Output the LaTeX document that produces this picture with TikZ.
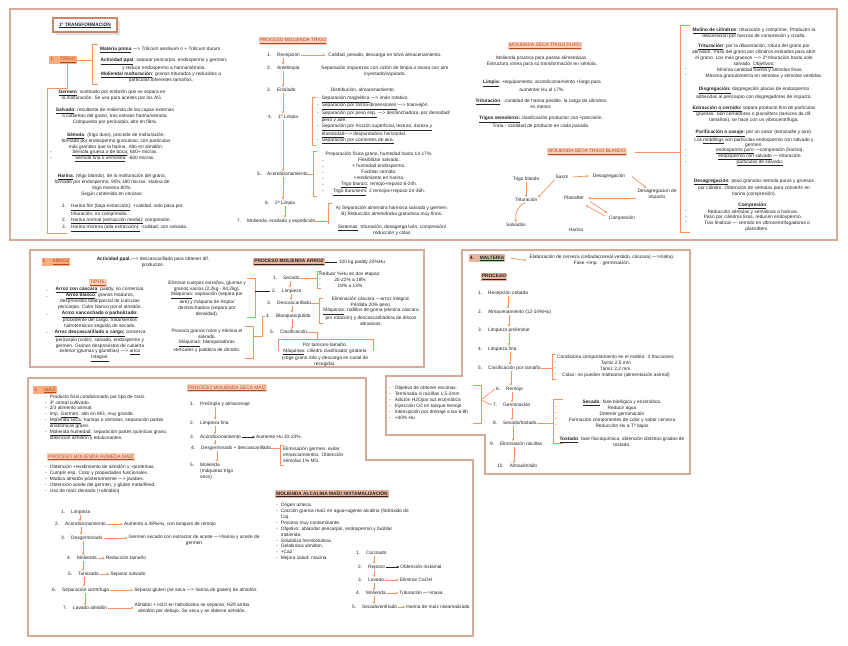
\documentclass[tikz,border=0pt]{standalone}
\usepackage{fontspec}
\setmainfont{Liberation Sans}
\usetikzlibrary{arrows.meta,positioning,shadows}

\definecolor{frameclr}{RGB}{214,172,152}
\definecolor{arrclr}{RGB}{246,146,95}
\definecolor{txtclr}{RGB}{35,35,35}
\definecolor{hlorange}{RGB}{248,172,128}
\definecolor{hlpeach}{RGB}{251,208,184}
\definecolor{hltan}{RGB}{232,180,155}
\definecolor{hltext}{RGB}{180,72,38}
\definecolor{titleclr}{RGB}{200,135,105}

\newcommand{\fs}{\fontsize{4.8}{5.9}\selectfont}
\newcommand{\und}[1]{\underline{#1}}
\newcommand{\bu}[1]{\underline{\textbf{#1}}}

\tikzset{
  txt/.style={font=\fs, text=txtclr, inner sep=0pt, align=center},
  ltxt/.style={font=\fs, text=txtclr, inner sep=0pt, align=left, anchor=west},
  stp/.style={font=\fs, text=txtclr, inner sep=0pt, anchor=west},
  hlor/.style={font=\fs, fill=hlorange, text=hltext, inner sep=1pt},
  hlpe/.style={font=\fs, fill=hlpeach, text=hltext, inner sep=1pt},
  hltn/.style={font=\fs\bfseries, fill=hltan, text=txtclr, inner sep=1pt},
  arr/.style={draw=arrclr, line width=0.7pt, -{Stealth[length=2.5pt,width=2.6pt]}, shorten >=1pt, shorten <=1pt},
  barr/.style={arr, draw=txtclr},
  brk/.style={draw=arrclr, line width=0.7pt},
  panel/.style={draw=frameclr, line width=1.5pt},
}

\begin{document}
\begin{tikzpicture}[x=1pt,y=-1pt]

  % Page
  \fill[white] (0,0) rectangle (848,645);
  \useasboundingbox (0,0) rectangle (848,645);

  % Panels
  \draw[panel] (10,9) rectangle (837,240);
  \draw[panel] (30,250) rectangle (424,367);
  \draw[panel] (462,250) -- (690,250) -- (690,474) -- (485,474) -- (485,435)
    -- (386,435) -- (386,376) -- (462,376) -- cycle;
  \draw[panel] (28,378) -- (366,378) -- (366,460) -- (473,460) -- (473,636)
    -- (28,636) -- cycle;

  % Title
  \node[font=\fs\bfseries, text=txtclr, draw=titleclr, line width=2pt, fill=white,
        minimum width=64pt, minimum height=14pt, drop shadow={opacity=0.25}]
        (titulo) at (85,25) {\und{1º TRANSFORMACIÓN}};

  % 1. Trigo
  \node[hlor] (trigo) at (63,60) {1.\hspace{6pt}\und{TRIGO}};
  \coordinate (mpa) at (92,44);
  \coordinate (mpb) at (92,84);
  \draw[brk] ([xshift=6pt]mpa) -- (mpa) -- (mpb) -- ([xshift=6pt]mpb);
  \draw[brk] (trigo.east) -- (trigo.east -| mpa);
  \node[txt] (mprima) at (161,50) {\bu{Materia prima} —> Triticum aestivum o + Triticum durum.};
  \node[txt] (appal) at (164,64) {\bu{Actividad ppal}: separar pericarpio, endospermo y germen,\\y reducir endospermo a harina/sémola.};
  \node[txt] (molt) at (161,77.5) {\bu{Molienda/ molturación}: granos triturados y reducidos a\\partículas diferentes tamaños.};

  \coordinate (gba) at (47,88);
  \coordinate (gbb) at (47,233);
  \draw[brk] ([xshift=4pt]trigo.south) |- (gba) -- (gbb) -- ++(20,0);

  \node[txt] (germen) at (112,95) {\bu{Germen}: sustituido por embrión que se separa en\\la molturación. Se usa para aceites por los AG.};
  \node[txt] (salvado) at (115,116.5) {\bu{Salvado}: resultante de molienda de las capas externas\\o cubiertas del grano, tras extraes harina/sémola.\\Compuesto por pericarpio, alto en fibra.};
  \node[txt] (semola) at (116,141) {\bu{Sémola}: (trigo duro), procede de molturación,\\formado por endospermo granuloso, con partículas\\más grandes que la harina. Alto en almidón:};
  \node[txt] (sgruesa) at (115,153) {\und{Sémola gruesa o de boca}: 600+ micras.};
  \node[txt] (sfina) at (115,159) {\und{Sémola fina o semolina}: -600 micras.};
  \foreach \y [count=\i] in {153,159} \node[txt] (dsm\i) at (51,\y) {-};
  \node[txt] (harina) at (112,185.5) {\bu{Harina}: (trigo blando), de la molturación del grano,\\formado por endospermo, 90\% 180 micras. Harina de\\trigo morena 80\%.\\Según contenido en cenizas:};
  \node[ltxt] (cenizas) at (62,218) {1.\hspace{5pt}\und{Harina flor (baja extracción)}: +calidad, solo pasa por\\\hphantom{1.\hspace{5pt}}trituración, no comprimida.\\2.\hspace{5pt}\und{Harina normal (extracción media):} compresión.\\3.\hspace{5pt}\und{Harina morena (alta extracción):} -calidad, con salvado.};

  % Proceso molienda trigo
  \node[hlpe] (pmt) at (293,41) {\und{PROCESO MOLIENDA TRIGO}};
  \node[stp] (s1) at (267,55) {1.\hspace{6pt}Recepción};
  \node[stp] (s2) at (267,68) {2.\hspace{6pt}Antelimpia};
  \node[stp] (s3) at (267,90) {3.\hspace{6pt}Ensilado};
  \node[stp] (s4) at (268,117) {4.\hspace{6pt}1º Limpia};
  \node[stp] (s5) at (257,174) {5.\hspace{6pt}Acondicionamiento};
  \node[stp] (s6) at (265,203) {6.\hspace{6pt}2ª Limpia};
  \node[stp] (s7) at (237,221) {7.\hspace{6pt}Molienda, ensilado y expedición};
  \foreach \a/\b/\x in {s1/s2/283, s2/s3/283, s3/s4/283, s4/s5/283, s5/s6/283, s6/s7/285} {
    \coordinate (ax) at (\x,0);
    \draw[arr] (\a.south -| ax) -- (\b.north -| ax);
  }

  \node[txt] (r1) at (385,55) {Calidad, pesado, descarga en tolva almacenamiento.};
  \draw[arr] (s1.east) -- ([xshift=-2pt]r1.west);
  \node[txt] (r2) at (385,71) {Separación impurezas con ciclón de limpia o tarara con aire\\inyectado/aspirado.};
  \node[txt] (r3) at (363,90) {Distribución, almacenamiento.};

  \coordinate (bla) at (312,97);
  \coordinate (blb) at (312,145);
  \draw[brk] ([xshift=4pt]bla) -- (bla) -- (blb) -- ([xshift=4pt]blb);
  \node[ltxt] (r4) at (317,120) {-\hspace{3pt}\und{Separación magnética} —> imán rotativo.\\-\hspace{3pt}\und{Separación por forma-dimensiones} —> trianvejón.\\-\hspace{3pt}\und{Separación por peso esp.} —> deshinchadora, por densidad/\\\hphantom{-\hspace{3pt}}peso y aire.\\-\hspace{3pt}\und{Separación por fricción superficial, textura, dureza y}\\\hphantom{-\hspace{3pt}}\und{elasticidad}—> despuntadora horizontal.\\-\hspace{3pt}\und{Separación por corrientes de aire.}};

  \coordinate (baa) at (313,151);
  \coordinate (bab) at (313,196);
  \draw[brk] ([xshift=4pt]baa) -- (baa) -- (bab) -- ([xshift=4pt]bab);
  \draw[brk] (s5.east) -- (s5.east -| baa);
  \node[txt] (r5) at (379,174) {Preparación física grano, humedad hasta 14-17\%.\\Flexibilizar salvado.\\+ humedad endospermo.\\Facilitar cernido.\\+rendimiento en harina.\\\und{Trigo blanco}: remojo+reposo 6-24h.\\\und{Trigo duro/semi}: 2 remojos+reposo 24-36h.};
  \foreach \y [count=\i] in {161.9,167.8,173.7,179.6,185.5,191.4} \node[txt] (dac\i) at (323,\y) {-};

  \coordinate (b7a) at (328,203);
  \coordinate (b7b) at (328,224);
  \draw[brk] ([xshift=4pt]b7a) -- (b7a) -- (b7b);
  \draw[brk] (s7.east) -- (s7.east -| b7a);
  \node[txt] (r7a) at (392,211) {A) Separación almendra harinosa salvado y germen.\\B) Reducción almendraba granulosa muy finos.};
  \node[txt] (r7b) at (392,230) {\und{Sistemas}: trituración, desagrega lvón, compresión/\\reducción y colas};

  % Molienda seca trigo duro
  \node[hlpe] (msd) at (545,46) {\und{MOLIENDA SECA TRIGO DURO}};
  \node[txt] (dur1) at (542,61.5) {Molienda practica para pastas alimenticias.\\Estructura vítrea para su transformación en sémola.};
  \node[txt] (dur2) at (542,86) {\bu{Limpia}: +equipamento, acondicionamiento +largo para\\aumentar Hu al 17\%.};
  \node[txt] (dur3) at (541,104) {\bu{Trituración}: -cantidad de harina posible, la carga de cilindros\\es menor.};
  \node[txt] (dur4) at (541,122) {\bu{Trigos semoleros:} clasificación productor con +precisión.\\Trata - cantidad de producto en cada pasada.};

  % Molienda seca trigo blando
  \node[hlpe] (msb) at (587,152) {\und{MOLIENDA SECA TRIGO BLANDO}};
  \coordinate (rba) at (680,25);
  \coordinate (rbb) at (680,232);
  \draw[brk] ([xshift=10pt]rba) -- (rba) -- (rbb) -- ([xshift=10pt]rbb);
  \draw[brk] ([xshift=8pt]msb.east) -- (msb.east -| rba);

  \node[txt] (tb) at (526,179) {Trigo blando};
  \node[txt] (sasor) at (562,177) {Sasor};
  \node[txt] (desag) at (609,176) {Desagregación};
  \node[txt] (desimp) at (657,194) {Desagregacion de\\impacto};
  \node[txt] (plansf) at (574,198) {Planisfter};
  \node[txt] (trit) at (526,200) {Trituración};
  \node[txt] (comp) at (622,218) {Compresión};
  \node[txt] (salv) at (516,225) {Salvados};
  \node[txt] (harn) at (576,230) {Harina};
  \draw[arr] (tb) -- (trit);
  \draw[arr] (sasor.south west) -- (trit.north east);
  \draw[arr] ([xshift=3pt]sasor.east) -- ([xshift=-3pt]desag.west);
  \draw[arr] ([xshift=6pt]desag.east) -- ([xshift=10pt]desimp.north west);
  \draw[arr] (plansf -| desimp.west) -- ([xshift=3pt]plansf.east);
  \draw[arr] ([xshift=5pt,yshift=-1pt]plansf.south east) -- ([xshift=-1pt,yshift=2pt]comp.north west);
  \draw[arr] ([xshift=-3pt,yshift=-1pt]comp.north west) -- ([xshift=1pt,yshift=-5pt]plansf.south east);
  \draw[arr] (trit.south) .. controls (518,206) and (515,212) .. (salv.north);

  % Molino de cilindros
  \node[txt] (molc) at (754,33) {\bu{Molino de cilindros}: trituración y comprime. Producen la\\dilaceración por fuerzas de compresión y cizalla.};
  \node[txt] (tritc) at (754,56) {\bu{Trituración}: por la dilaceración, rotura del grano por\\abrasión. Paso del grano por cilindros estriados para abrir\\el grano. Los más gruesos —> 2ª trituración hasta solo\\salvado. \und{Objetivos}:};
  \node[txt] (obj1) at (760,70) {Mínima cantidad harina y sémolas finas.};
  \node[txt] (obj2) at (764,76) {Máxima granulometría en sémolas y sémolas vestidas.};
  \foreach \y [count=\i] in {70,76} \node[txt] (dob\i) at (686,\y) {-};
  \node[txt] (disg) at (754,93) {\bu{Disgregación:} disgregación placas de endospermo\\adheridas al pericarpio con disgregadores de impacto.};
  \node[txt] (extr) at (754,114.5) {\bu{Extracción o cernido:} separa producto fino de partículas\\gruesas. Son cernedores o plansifters (tamices de dif.\\tamaños), se hace con un vibrocentrífuga.};
  \node[txt] (purif) at (754,139) {\bu{Purificación o sasaje:} por un sasor (tamizadle y aire).\\Los \und{middlings} son partículas endospermo con salvado y\\germen.};
  \node[txt] (pur1) at (760,151) {\und{endospermo puro} —compresión (harina).};
  \node[txt] (pur2) at (760,157) {\und{endospermo con salvado} — trituración.};
  \node[txt] (pur3) at (760,163) {\und{partículas de salvado.}};
  \foreach \y [count=\i] in {151,157,163} \node[txt] (dpu\i) at (686,\y) {-};
  \node[txt] (desg) at (754,187.5) {\bu{Desagregación}: paso gránulos semola puros y gruesos\\por cilindro. Obtención de sémolas para convertir en\\harina (compresión).};
  \node[txt] (compt) at (753,206) {\bu{Compresión}:};
  \node[txt] (cmp1) at (753,212) {Reducción sémolas y semolinas a harinas.};
  \node[txt] (cmp2) at (753,217.5) {Paso por cilindros lisos, reducen endospermo.};
  \node[txt] (cmp3) at (757,226) {Tras finalizar — cernido en vibrocentrifugadoras o\\plansifters.};
  \foreach \y [count=\i] in {212,217.5,223} \node[txt] (dcm\i) at (686,\y) {-};

  % 2. Arroz
  \node[hlor] (arroz) at (56,262) {2.\hspace{6pt}\und{ARROZ}};
  \node[txt] (aprz) at (153,262) {\textbf{Actividad ppal.}—> descascarillado para obtener dif.\\productos.};
  \node[hlpe] (tipos) at (98,283) {\und{TIPOS:}};
  \node[txt] (tlist) at (100,324.5) {\bu{Arroz con cáscara}: paddy, no comercial.\\\bu{Arroz blanco}: granos maduros,\\desprovistos total/parcial de cutículas\\pericarpio. Color blanco por el almidón.\\\bu{Arroz sancochado o parbolizado:}\\procedente del cargo, tratamientos\\hidrotérmicos seguido de secado.\\\bu{Arroz descascarillado o cargo:} conserva\\pericarpio (color), salvado, endospermo y\\germen. Granos desprovistos de cubierta\\exterior (glumas y glumillas) —> \und{arroz}\\\und{integral.}};
  \foreach \y [count=\i] in {292,297.9,315.6,333.3} \node[txt] (dt\i) at (47,\y) {-};

  \node[txt] (elim) at (207,298.5) {Eliminar cuerpos extraños, glumas y\\granos vacíos (2,2kg - 84,2kg).\\\und{Máquinas}: aspiración (separa por\\aire) y máquina de limpia/\\deshinchadora (separa por\\densidad).};
  \coordinate (bea) at (255,278);
  \coordinate (beb) at (255,317);
  \draw[brk] ([xshift=-8pt]bea) -- (bea) -- (beb) -- ([xshift=-8pt]beb);
  \node[txt] (prov) at (207,340.5) {Provoca granos rotos y elimina el\\salvado.\\\und{Máquinas}: blanqueadoras\\verticales y pulidora de cilindro.};
  \coordinate (bpa) at (253,326);
  \coordinate (bpb) at (253,358);
  \draw[brk] ([xshift=-8pt]bpa) -- (bpa) -- (bpb) -- ([xshift=-8pt]bpb);

  % Proceso molienda arroz
  \node[hltn] (pma) at (289,262) {\und{PROCESO MOLIENDA ARROZ}};
  \node[txt] (paddy) at (362,262) {100 kg paddy 24\%Hu};
  \draw[txtclr, line width=0.5pt] (pma.east) -- ([xshift=-2pt]paddy.west);
  \node[stp] (a1) at (273,278) {1.\hspace{6pt}Secado};
  \node[stp] (a2) at (272,291) {2.\hspace{6pt}Limpieza};
  \node[stp] (a3) at (267,303) {3.\hspace{6pt}Descascarillado};
  \node[stp] (a4) at (266,316) {4.\hspace{6pt}Blanqueo/pulido};
  \node[stp] (a5) at (270,332) {5.\hspace{6pt}Clasificación};
  \foreach \a/\b/\x in {a1/a2/290, a2/a3/291, a3/a4/292, a4/a5/292} {
    \coordinate (ax) at (\x,0);
    \draw[arr] (\a.south -| ax) -- (\b.north -| ax);
  }
  \draw[txtclr, line width=0.5pt] (a2.west -| bea) -- ([xshift=-2pt]a2.west);
  \coordinate (bpm) at (262,336);
  \draw[brk] (bpm -| bpa) -- (bpm) |- ([xshift=-1pt]a4.west);

  \coordinate (bsa) at (317,271);
  \coordinate (bsb) at (317,288);
  \draw[brk] ([xshift=4pt]bsa) -- (bsa) -- (bsb) -- ([xshift=4pt]bsb);
  \draw[brk] (a1.east) -- (a1.east -| bsa);
  \node[txt] (sec) at (350,280) {Reducir \%Hu en dos etapas:\\20-22\% a 18\%\\18\% a 13\%};
  \foreach \y [count=\i] in {280,285.9} \node[txt] (dsr\i) at (320,\y) {-};

  \coordinate (bda) at (319,298);
  \coordinate (bdb) at (319,323);
  \draw[brk] ([xshift=4pt]bda) -- (bda) -- (bdb) -- ([xshift=4pt]bdb);
  \draw[brk] (a3.east) -- (a3.east -| bda);
  \node[txt] (desc) at (371,311) {Eliminación cáscara —arroz integral.\\Pérdida 20\% peso.\\\und{Máquinas}: rodillos de goma (elimina cáscara\\por rotación) y descascarilladora de discos\\abrasivos.};

  \coordinate (bca) at (278,339);
  \coordinate (bcb) at (373,339);
  \coordinate (bcm) at (317,339);
  \draw[brk] ([yshift=-12pt]bca) -- (bca) -- (bcb) -- ([yshift=-12pt]bcb);
  \draw[brk] (a5.east) -| (bcm);
  \node[txt] (clas) at (325,354.5) {Por tamices-tamaño.\\\und{Máquinas}: cilindro clasificador giratorio\\(coge grano roto y descarga en canal de\\recogida).};

  % 4. Maltería
  \node[hltn] (malt) at (487,258) {4.\hspace{6pt}\und{MALTERÍA}};
  \node[txt] (cerv) at (602,260.5) {Elaboración de cerveza (cebada(cereal vestido, cáscara) —>malta).\\Fase +imp. : germinación.};
  \draw[arr] ([xshift=4pt]malt.east) -- ([xshift=-2pt]cerv.west);
  \node[hltn] (proc) at (494,277) {\und{PROCESO}};
  \node[stp] (m1) at (478,293) {1.\hspace{6pt}Recepción cebada};
  \node[stp] (m2) at (478,312) {2.\hspace{6pt}Almacenamiento (12-14\%Hu)};
  \node[stp] (m3) at (478,330) {3.\hspace{6pt}Limpieza preliminar};
  \node[stp] (m4) at (478,349) {4.\hspace{6pt}Limpieza fina};
  \node[stp] (m5) at (478,368) {5.\hspace{6pt}Clasificación por tamaño};
  \node[stp] (m6) at (496,389) {6.\hspace{6pt}Remojo};
  \node[stp] (m7) at (493,405) {7.\hspace{6pt}Germinación};
  \node[stp] (m8) at (493,423) {8.\hspace{6pt}Secado/tostado};
  \node[stp] (m9) at (490,444) {9.\hspace{6pt}Eliminación raicillas};
  \node[stp] (m10) at (497,466) {10.\hspace{6pt}Almacén/silo};
  \foreach \a/\b/\x in {m1/m2/508, m2/m3/509, m3/m4/509, m4/m5/510, m5/m6/511, m6/m7/512, m7/m8/512, m8/m9/513, m9/m10/514} {
    \coordinate (ax) at (\x,0);
    \draw[arr] (\a.south -| ax) -- (\b.north -| ax);
  }

  \coordinate (bma) at (552,354);
  \coordinate (bmb) at (552,379);
  \draw[brk] ([xshift=4pt]bma) -- (bma) -- (bmb) -- ([xshift=4pt]bmb);
  \draw[brk] (m5.east) -- (m5.east -| bma);
  \node[txt] (frac) at (616,366) {Condiciona comportamiento en el malteo. 3 fracciones:\\Tamiz 2,5 mm\\Tamiz 2,2 mm.\\Colas: no pueden maltearse (alimentación animal)};
  \foreach \y [count=\i] in {363.05,368.95,374.85} \node[txt] (dmf\i) at (555,\y) {-};

  \coordinate (bta) at (553,399);
  \coordinate (btb) at (553,443);
  \draw[brk] ([xshift=10pt]bta) -- (bta) -- (btb) -- ([xshift=10pt]btb);
  \draw[brk] (m8.east) -- (m8.east -| bta);
  \node[txt] (sect) at (622,414) {\bu{Secado}: fase biológica y enzimática.\\Reducir agua\\Detener germinación\\Formación componentes de color y sabor cerveza\\Reducción Hu a Tª bajas};
  \foreach \y [count=\i] in {408.1,414,419.9,425.8} \node[txt] (dst\i) at (556,\y) {-};
  \node[txt] (tost) at (622,442) {\bu{Tostado}: fase fisicoquímica, obtención distintos grados de\\tostado.};

  \coordinate (bra) at (481,385);
  \coordinate (brb) at (481,423);
  \coordinate (brm) at (481,400);
  \draw[brk] ([xshift=-8pt]bra) -- (bra) -- (brb) -- ([xshift=-8pt]brb);
  \draw[brk] ([xshift=-1pt]m6.west) -- (brm) -- ([xshift=-1pt]m7.west);
  \node[ltxt] (enc) at (389,403) {-\hspace{4pt}Objetivo de obtener encimas.\\-\hspace{4pt}Terminada si raicillas 1,5-2mm\\-\hspace{4pt}Adición H2Opar act.enzimática\\-\hspace{4pt}Inyección O2 en tanque remojo\\-\hspace{4pt}Interrupción por drenaje a las 6-8h\\-\hspace{4pt}+40\% Hu};

  % 3. Maiz
  \node[hlor] (maiz) at (45,390) {3.\hspace{6pt}\und{MAÍZ}};
  \node[ltxt] (mzl) at (45,417.5) {-\hspace{3pt}Producto final condicionado por tipo de maíz.\\-\hspace{3pt}3º cereal cultivado.\\-\hspace{3pt}2/3 alimento animal.\\-\hspace{3pt}Imp. \und{Germen}: alto en MG, muy grande.\\-\hspace{3pt}\und{Molienda seca}: harinas o sémolas, separación partes\\\hphantom{-\hspace{3pt}}anatómicas grano.\\-\hspace{3pt}\und{Molienda humedad}: separación partes químicas grano,\\\hphantom{-\hspace{3pt}}obtención almidón y edulcorantes.};

  % Proceso molienda humeda maiz
  \node[hlpe] (pmh) at (91,457) {\und{PROCESO MOLIENDA HÚMEDA MAÍZ}};
  \node[ltxt] (mhl) at (45,479.5) {-\hspace{3pt}Obtención +rendimiento de almidón y +proteínas.\\-\hspace{3pt}Cumplir esp. Color y propiedades funcionales.\\-\hspace{3pt}Modica almidón posteriormente —> jarabes.\\-\hspace{3pt}Obtención aceite del germen, y gluten meta/lfeed.\\-\hspace{3pt}Uso de maíz dentado (+almidón)};
  \node[stp] (h1) at (61,512) {1.\hspace{6pt}Limpieza};
  \node[stp] (h2) at (55,524) {2.\hspace{6pt}Acondicionamiento};
  \node[stp] (h3) at (61,538) {3.\hspace{6pt}Desgerminado};
  \node[stp] (h4) at (67,558) {4.\hspace{6pt}Molienda};
  \node[stp] (h5) at (68,574) {5.\hspace{6pt}Tamizado};
  \node[stp] (h6) at (52,590) {6.\hspace{6pt}Separación centrífuga};
  \node[stp] (h7) at (63,608) {7.\hspace{6pt}Lavado almidón};
  \foreach \a/\b/\x in {h1/h2/80, h2/h3/81, h3/h4/83, h4/h5/83, h5/h6/84, h6/h7/85} {
    \coordinate (ax) at (\x,0);
    \draw[arr] (\a.south -| ax) -- (\b.north -| ax);
  }
  \node[txt] (hr2) at (170,524) {Aumento a 48\%Hu, con tanques de remojo};
  \node[txt] (hr3) at (194,540) {Germen secado con extractor de aceite —>harina y aceite de\\germen};
  \node[txt] (hr4) at (126,558) {Reducción tamaño};
  \node[txt] (hr5) at (128,574) {Separar salvado};
  \node[txt] (hr6) at (196,590) {Separar gluten (se seca —> harina de gluten) de almidón.};
  \node[txt] (hr7) at (192,608) {Almidón + H2O en hidrolicelos se separan, H29 arriba\\almidón por debajo. Se seca y se obtiene almidón.};
  \draw[arr] (h2.east) -- (hr2.west);
  \draw[arr] (h3.east) -- (h3.east -| hr3.west);
  \draw[arr] (h4.east) -- (hr4.west);
  \draw[arr] (h5.east) -- (hr5.west);
  \draw[arr] (h6.east) -- (hr6.west);
  \draw[arr] (h7.east) -- (h7.east -| hr7.west);

  % Proceso molienda seca maiz
  \node[hlpe] (pms) at (227,388) {\und{PROCESO MOLIENDA SECA MAÍZ}};
  \node[stp] (d1) at (190,404) {1.\hspace{6pt}Prelimpia y almacenaje};
  \node[stp] (d2) at (190,423) {2.\hspace{6pt}Limpieza fina};
  \node[stp] (d3) at (190,437) {3.\hspace{6pt}Acondicionamiento};
  \node[stp] (d4) at (191,448) {4.\hspace{6pt}Desgerminado + descascarillado};
  \node[ltxt] (d5) at (190,471) {5.\hspace{6pt}Molienda\\\hphantom{5.\hspace{6pt}}(máquinas trigo\\\hphantom{5.\hspace{6pt}}seco)};
  \foreach \a/\b/\x in {d1/d2/215, d2/d3/215, d3/d4/215, d4/d5/217} {
    \coordinate (ax) at (\x,0);
    \draw[arr] (\a.south -| ax) -- (\b.north -| ax);
  }
  \node[txt] (dr3) at (279,437) {Aumento Hu 20-23\%.};
  \draw[barr] (d3.east) -- (dr3.west);
  \coordinate (bga) at (280,445);
  \coordinate (bgb) at (280,465);
  \draw[brk] ([xshift=4pt]bga) -- (bga) -- (bgb) -- ([xshift=4pt]bgb);
  \draw[brk] (d4.east) -- (d4.east -| bga);
  \node[ltxt] (dr4) at (283,455) {Eliminación germen, evitar\\enranciamientos. Obtención\\sémolas 1\% MG.};

  % Molienda alcalina
  \node[hltn] (pnx) at (332,494) {\und{MOLIENDA ALCALINA MAÍZ/ NIXTAMALIZACIÓN}};
  \node[ltxt] (alk) at (276,532) {-\hspace{3pt}Origen azteca.\\-\hspace{3pt}Cocción granos maíz en agua+agente alcalino (hidróxido de\\\hphantom{-\hspace{3pt}}Ca).\\-\hspace{3pt}Proceso muy contaminante.\\-\hspace{3pt}Objetivo: ablandar pericarpio, endospermo y facilitar\\\hphantom{-\hspace{3pt}}molienda.\\-\hspace{3pt}Solubiliza hemicelulosa.\\-\hspace{3pt}Gelatinosa almidon.\\-\hspace{3pt}+Ca2\\-\hspace{3pt}Mejora salud: niacina};
  \node[stp] (n1) at (356,553) {1.\hspace{6pt}Cocinado};
  \node[stp] (n2) at (358,567) {2.\hspace{6pt}Reposo};
  \node[stp] (n3) at (358,580) {3.\hspace{6pt}Lavado};
  \node[stp] (n4) at (356,593) {4.\hspace{6pt}Molienda};
  \node[stp] (n5) at (352,607) {5.\hspace{6pt}Secado/enfriado};
  \foreach \a/\b in {n1/n2, n2/n3, n3/n4, n4/n5} {
    \coordinate (ax) at (374,0);
    \draw[arr] (\a.south -| ax) -- (\b.north -| ax);
  }
  \node[txt] (nr2) at (421,567) {Obtención nixtamal};
  \node[txt] (nr3) at (416,580) {Eliminar CaOH};
  \node[txt] (nr4) at (421,593) {Trituración —>masa};
  \node[txt] (nr5) at (438,607) {Harina de maíz nixtamalizado};
  \draw[barr] (n2.east) -- (nr2.west);
  \draw[arr] (n3.east) -- (nr3.west);
  \draw[arr] (n4.east) -- (nr4.west);
  \draw[arr] (n5.east) -- (nr5.west);

\end{tikzpicture}
\end{document}
